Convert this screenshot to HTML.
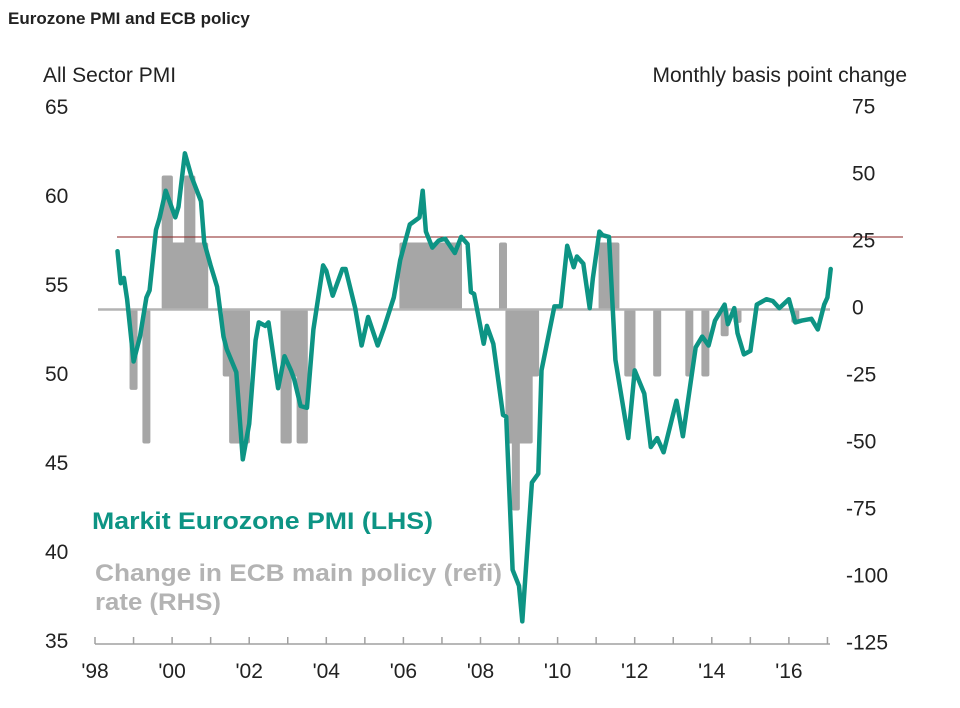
<!DOCTYPE html>
<html><head><meta charset="utf-8">
<style>
html,body{margin:0;padding:0;background:#fff;}
body{width:960px;height:708px;overflow:hidden;font-family:"Liberation Sans",Arial,sans-serif;}
svg{display:block;}
</style></head>
<body>
<svg id="chart" width="960" height="708" viewBox="0 0 960 708">
  <text x="8" y="24" font-size="17" font-weight="bold" fill="#222">Eurozone PMI and ECB policy</text>
  <text x="43" y="82" font-size="21" fill="#222">All Sector PMI</text>
  <text x="907" y="82" font-size="21" fill="#222" text-anchor="end">Monthly basis point change</text>
  <g id="bars"></g>
  <g id="axes"></g>
  <g id="line"></g>
  <text x="92" y="529" font-size="24" font-weight="bold" fill="#0d9484" textLength="341" lengthAdjust="spacingAndGlyphs">Markit Eurozone PMI  (LHS)</text>
  <text x="95" y="581" font-size="24" font-weight="bold" fill="#b3b3b3" textLength="407" lengthAdjust="spacingAndGlyphs">Change in ECB main policy (refi)</text>
  <text x="95" y="610" font-size="24" font-weight="bold" fill="#b3b3b3" textLength="126" lengthAdjust="spacingAndGlyphs">rate (RHS)</text>
</svg>
<script>
// months counted from Jan 1998 (0)
const barMonths = [12,16,22,23,24,25,26,27,28,29,30,31,32,33,34,41,42,43,44,45,46,47,59,60,61,62,63,64,65,
  96,97,98,99,100,101,102,103,104,105,106,107,108,109,110,111,112,113,127,
  129,130,131,132,133,134,135,136,137,158,159,160,161,162,166,167,175,185,190,196,200,218];
const barValues = [-30,-50,50,50,25,25,25,25,25,50,50,25,25,25,25,-25,-25,-50,-50,-50,-50,-50,-50,-50,-25,-25,-25,-50,-50,
  25,25,25,25,25,25,25,25,25,25,25,25,25,25,25,25,25,25,25,
  -50,-50,-75,-50,-50,-50,-50,-25,-25,25,25,25,25,25,-25,-25,-25,-25,-25,-10,-5,-5];
const pmiMonths = [7,8,9,10,12,14,16,17,19,20,22,25,26,28,30,33,34,36,38,40,41,44,46,48,50,51,53,54,57,59,61,62,64,66,68,71,72,74,77,78,81,83,85,88,90,93,95,98,101,102,103,105,107,109,112,114,116,117,118,121,122,124,127,128,130,132,133,136,138,139,143,145,147,149,150,152,154,155,157,158,160,162,166,168,171,173,175,177,181,183,187,189,191,193,196,197,199,200,202,204,206,209,211,213,216,218,220,223,225,227,228,229];
const pmiValues = [56.9,55.1,55.4,54.2,50.7,52.1,54.3,54.7,58.1,58.7,60.3,58.8,59.4,62.4,61.1,59.7,57.4,56.1,54.9,52.1,51.4,50.1,45.2,47.2,51.9,52.9,52.7,52.9,49.2,51.0,50.2,49.7,48.2,48.1,52.5,56.1,55.8,54.4,55.9,55.9,53.7,51.6,53.2,51.6,52.6,54.3,56.4,58.4,58.8,60.3,58.0,57.1,57.5,57.6,56.8,57.7,57.3,54.6,54.5,51.7,52.7,51.7,47.7,47.6,39.0,38.1,36.1,43.9,44.4,50.2,53.8,53.8,57.2,56.0,56.6,56.2,53.7,55.4,58.0,57.8,57.7,50.8,46.4,50.2,48.9,45.9,46.4,45.6,48.5,46.5,51.5,52.1,51.6,53.0,53.9,52.8,53.7,52.3,51.1,51.3,53.9,54.2,54.1,53.7,54.2,52.9,53.0,53.1,52.5,53.9,54.3,55.9];
const leftTicks = [65,60,55,50,45,40,35];
const rightTicks = [75,50,25,0,-25,-50,-75,-100,-125];
const xTickLabels = ["'98","'00","'02","'04","'06","'08","'10","'12","'14","'16"];

const NS = "http://www.w3.org/2000/svg";
const xM = m => 95 + m * 38.55 / 12;
const yL = v => 107 + (65 - v) * 17.8;
const yR = v => 309.5 - v * 2.68;
function mk(tag, attrs, parent){const e=document.createElementNS(NS,tag);for(const k in attrs)e.setAttribute(k,attrs[k]);parent.appendChild(e);return e;}

const bars = document.getElementById('bars');
barMonths.forEach((m,i)=>{
  const v = barValues[i];
  const y0 = yR(0), y1 = yR(v);
  const r = mk('rect',{x:xM(m)-4,y:Math.min(y0,y1),width:8,height:Math.abs(y1-y0),fill:'#a6a6a6',rx:2},bars);
  
  
});

const axes = document.getElementById('axes');
const zl = mk('line',{x1:98,x2:830,y1:yR(0),y2:yR(0),stroke:'#b3b3b3','stroke-width':2.5},axes);


const rl = mk('line',{x1:117,x2:903,y1:237,y2:237,stroke:'#8a2222','stroke-width':1},axes);


const xa = mk('line',{x1:95,x2:830,y1:644,y2:644,stroke:'#a0a0a0','stroke-width':1.5},axes);


for(let y=0;y<=19;y++){
  const t = mk('line',{x1:xM(y*12),x2:xM(y*12),y1:644,y2:637,stroke:'#a0a0a0','stroke-width':1.5},axes);
  
  
}
xTickLabels.forEach((s,i)=>{
  const t = mk('text',{x:xM(i*24),y:678,'font-size':21,fill:'#222','text-anchor':'middle'},axes);
  t.textContent = s;
  
  
});
leftTicks.forEach(v=>{
  const t = mk('text',{x:45,y:yL(v)+7,'font-size':21,fill:'#222'},axes);
  t.textContent = v;
  
  
});
rightTicks.forEach(v=>{
  const t = mk('text',{x:v<0?846:852,y:yR(v)+5,'font-size':21,fill:'#222'},axes);
  t.textContent = v;
  
  
});

const lineG = document.getElementById('line');
const d = pmiMonths.map((m,i)=>(i?'L':'M')+xM(m).toFixed(1)+' '+yL(pmiValues[i]).toFixed(1)).join(' ');
const p = mk('path',{d:d,fill:'none',stroke:'#0d9484','stroke-width':4.5,'stroke-linejoin':'round','stroke-linecap':'round'},lineG);


</script>
</body></html>
